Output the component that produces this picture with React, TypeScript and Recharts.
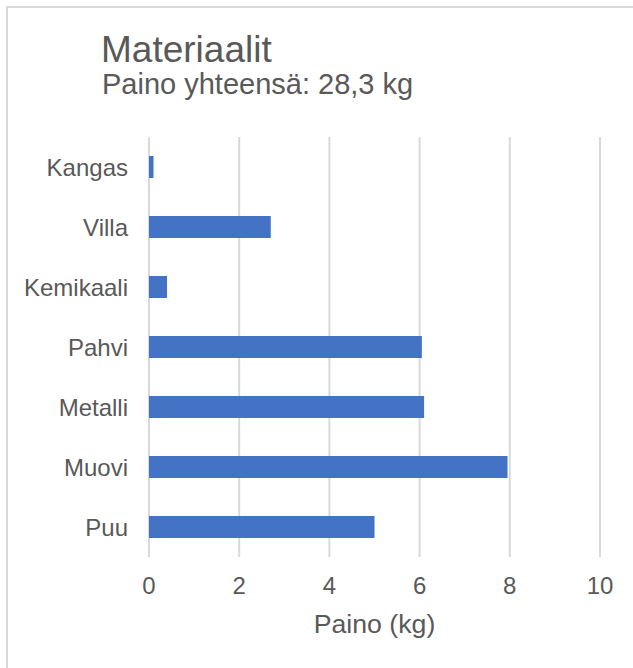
import React from "react";
import { BarChart, Bar, XAxis, YAxis, CartesianGrid, Label } from "recharts";

const categories = ["Kangas", "Villa", "Kemikaali", "Pahvi", "Metalli", "Muovi", "Puu"];
const weights = [0.1, 2.7, 0.4, 6.05, 6.1, 7.95, 5.0];
const xTicks = [0, 2, 4, 6, 8, 10];
const titleText = "Materiaalit";
const subtitleText = "Paino yhteensä: 28,3 kg";
const xAxisTitle = "Paino (kg)";

const data = categories.map((name, i) => ({ name, value: weights[i] }));

const FONT = "'Liberation Sans', Arial, sans-serif";
const TEXT = "#595959";

export default function App() {
  return (
    <div
      style={{
        position: "absolute",
        left: 0,
        top: 0,
        width: 633,
        height: 668,
        overflow: "hidden",
        background: "#fff",
        fontFamily: FONT,
      }}
    >
      <div
        style={{
          position: "absolute",
          left: 5.7,
          top: 5.7,
          width: 700,
          height: 720,
          border: "2px solid #d9d9d9",
          boxSizing: "border-box",
        }}
      />
      <BarChart
        width={633}
        height={668}
        data={data}
        layout="vertical"
        margin={{ top: 137, right: 33, bottom: 31, left: 0 }}
        style={{ position: "absolute", left: 0, top: 0 }}
      >
        <CartesianGrid vertical={true} horizontal={false} stroke="#d9d9d9" strokeWidth={2} />
        <XAxis
          type="number"
          domain={[0, 10]}
          ticks={xTicks}
          axisLine={false}
          tickLine={false}
          tickSize={10}
          tickMargin={10}
          height={80}
          tick={{ fill: TEXT, fontSize: 24, fontFamily: FONT }}
        >
          <Label
            value={xAxisTitle}
            position="insideBottom"
            offset={4}
            fill={TEXT}
            fontSize={26.7}
            fontFamily={FONT}
          />
        </XAxis>
        <YAxis
          type="category"
          dataKey="name"
          width={149}
          axisLine={false}
          tickLine={false}
          tickSize={10}
          tickMargin={11}
          tick={{ fill: TEXT, fontSize: 24, fontFamily: FONT }}
        />
        <Bar dataKey="value" fill="#4472C4" barSize={22} isAnimationActive={false} />
      </BarChart>
      <svg
        width={633}
        height={668}
        style={{ position: "absolute", left: 0, top: 0, pointerEvents: "none" }}
      >
        <text x={101} y={62} fill={TEXT} fontSize={37} fontFamily={FONT}>
          {titleText}
        </text>
        <text x={102} y={94} fill={TEXT} fontSize={29} fontFamily={FONT}>
          {subtitleText}
        </text>
      </svg>
    </div>
  );
}
